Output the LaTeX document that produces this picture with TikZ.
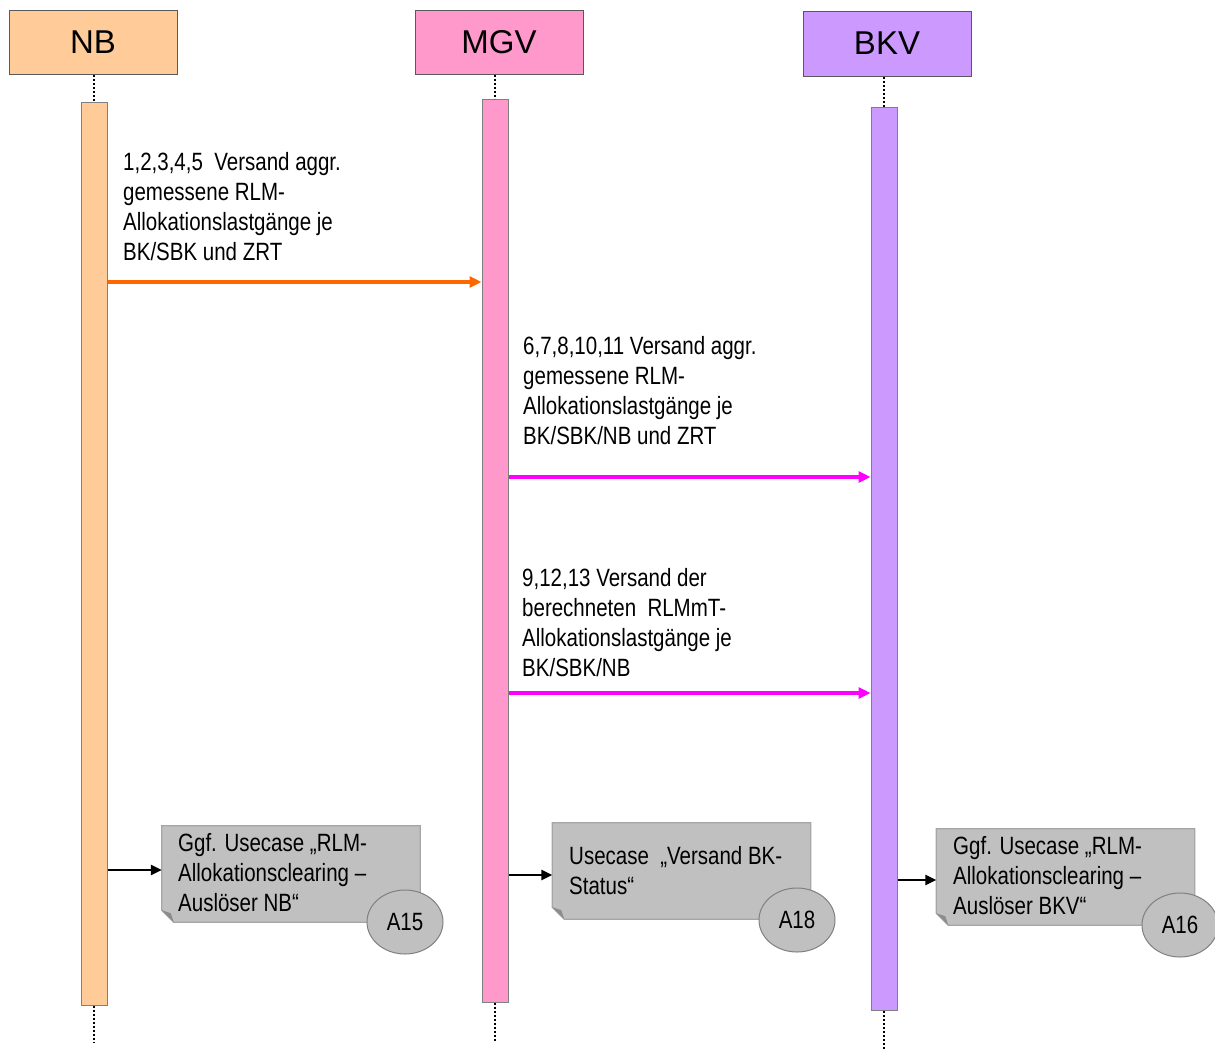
\documentclass[tikz,border=0pt]{standalone}
\usepackage{fontspec}
\setmainfont{Liberation Sans}[FakeStretch=0.82]
\newfontfamily\headfont{Liberation Sans}
\usetikzlibrary{arrows.meta,shapes.geometric}
\definecolor{nbcol}{HTML}{FFCC99}
\definecolor{mgvcol}{HTML}{FF99CC}
\definecolor{bkvcol}{HTML}{CC99FF}
\definecolor{msgorange}{HTML}{FF6600}
\definecolor{msgmagenta}{HTML}{FF00FF}
\definecolor{notegray}{HTML}{C0C0C0}
\definecolor{noteedge}{HTML}{A6A6A6}
\definecolor{foldgray}{HTML}{8C8C8C}
\definecolor{tagedge}{HTML}{808080}
\begin{document}
\begin{tikzpicture}[x=1pt,y=-1pt,
  head/.style={draw=black!65, line width=1pt, minimum width=168pt, minimum height=64pt,
    inner sep=0pt, font=\headfont\fontsize{33}{36}\selectfont},
  actbar/.style={draw=black!50, line width=1pt, minimum width=26pt, inner sep=0pt},
  life/.style={dotted, line width=2pt, black},
  msg/.style={line width=3.2pt, -{Triangle[length=12pt,width=11pt]}},
  trig/.style={line width=2.4pt, black, -{Triangle[length=11pt,width=10pt]}},
  txt/.style={anchor=north west, align=left, inner sep=0pt, font=\fontsize{25}{30}\selectfont},
  notebox/.style={minimum width=258pt, minimum height=96pt, inner sep=0pt},
  notefill/.style={fill=notegray, draw=noteedge, line width=1.2pt},
  tag/.style={ellipse, fill=notegray, draw=tagedge, line width=1pt, minimum width=76pt,
    minimum height=64pt, inner sep=0pt, font=\fontsize{25}{30}\selectfont}]
\useasboundingbox (0,0) rectangle (1215,1050);

% participants
\node[head, fill=nbcol] (nb) at (93,42) {NB};
\node[head, fill=mgvcol] (mgv) at (499,42) {MGV};
\node[head, fill=bkvcol, minimum height=65pt] (bkv) at (887,43.5) {BKV};

% activation bars
\node[actbar, fill=nbcol, minimum height=903pt] (nbbar) at (94,553.5) {};
\node[actbar, fill=mgvcol, minimum height=903pt] (mgvbar) at (495,550.5) {};
\node[actbar, fill=bkvcol, minimum height=903pt] (bkvbar) at (884,558.5) {};

% lifelines
\coordinate (nbend) at (94,1042);
\coordinate (mgvend) at (495,1042);
\coordinate (bkvend) at (884,1050);
\draw[life] (nbbar.north |- nb.south) -- (nbbar.north);
\draw[life] (mgvbar.north |- mgv.south) -- (mgvbar.north);
\draw[life] (bkvbar.north |- bkv.south) -- (bkvbar.north);
\draw[life] (nbbar.south) -- (nbend);
\draw[life] (mgvbar.south) -- (mgvend);
\draw[life] (bkvbar.south) -- (bkvend);

% messages
\draw[msg, msgorange] (nbbar.east |- 0,282) -- (mgvbar.west |- 0,282);
\draw[msg, msgmagenta] (mgvbar.east |- 0,477) -- (bkvbar.west |- 0,477);
\draw[msg, msgmagenta] (mgvbar.east |- 0,693) -- (bkvbar.west |- 0,693);

\node[txt] (t1) at (123,152) {1,2,3,4,5\ \ Versand aggr.\\gemessene RLM-\\Allokationslastgänge je\\BK/SBK und ZRT};
\node[txt] (t2) at (523,336) {6,7,8,10,11 Versand aggr.\\gemessene RLM-\\Allokationslastgänge je\\BK/SBK/NB und ZRT};
\node[txt] (t3) at (522,568) {9,12,13 Versand der\\berechneten\ \ RLMmT-\\Allokationslastgänge je\\BK/SBK/NB};

% use case notes with folded corner
\foreach \n/\cx/\cy in {n1/291/874, n2/681.5/871, n3/1065.5/877}{
  \node[notebox] (\n) at (\cx,\cy) {};
  \filldraw[notefill] (\n.north west) -- (\n.north east) -- (\n.south east)
    -- ([xshift=12pt]\n.south west) -- ([yshift=12pt]\n.south west) -- cycle;
  \fill[foldgray] ([yshift=12pt]\n.south west) -- ([xshift=12pt]\n.south west)
    -- ([xshift=9pt,yshift=9pt]\n.south west) -- cycle;
}
\node[txt] (n1t) at (178,833) {Ggf. Usecase „RLM-\\Allokationsclearing –\\Auslöser NB“};
\node[txt] (n2t) at (569,846) {Usecase\ \ „Versand BK-\\Status“};
\node[txt] (n3t) at (953,836) {Ggf. Usecase „RLM-\\Allokationsclearing –\\Auslöser BKV“};

\node[tag] (a15) at (405,922) {A15};
\node[tag] (a18) at (797,920) {A18};
\node[tag] (a16) at (1180,925) {A16};

\draw[trig] (nbbar.east |- 0,870) -- (n1.west |- 0,870);
\draw[trig] (mgvbar.east |- 0,875) -- (n2.west |- 0,875);
\draw[trig] (bkvbar.east |- 0,880) -- (n3.west |- 0,880);
\end{tikzpicture}
\end{document}
